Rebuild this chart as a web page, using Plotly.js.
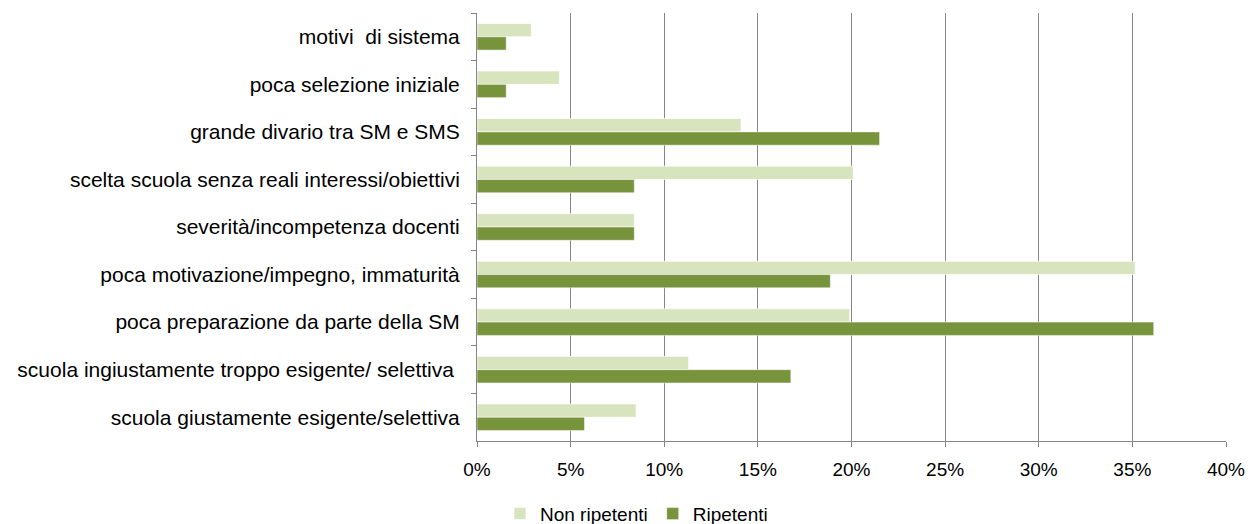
<!DOCTYPE html>
<html>
<head>
<meta charset="utf-8">
<script src="https://cdn.plot.ly/plotly-3.0.1.min.js"></script>
<style>html,body{margin:0;padding:0;background:#fff;}#chart{width:1248px;height:524px;}</style>
</head>
<body>
<div id="chart"></div>
<script>
var categories = [
  "motivi  di sistema",
  "poca selezione iniziale",
  "grande divario tra SM e SMS",
  "scelta scuola senza reali interessi/obiettivi",
  "severità/incompetenza docenti",
  "poca motivazione/impegno, immaturità",
  "poca preparazione da parte della SM",
  "scuola ingiustamente troppo esigente/ selettiva ",
  "scuola giustamente esigente/selettiva"
];
var nonRipetenti = [0.029, 0.044, 0.141, 0.201, 0.084, 0.3515, 0.199, 0.113, 0.085];
var ripetenti    = [0.0156, 0.0156, 0.215, 0.084, 0.084, 0.1887, 0.3614, 0.1676, 0.0574];
var seriesNames = ["Non ripetenti", "Ripetenti"];
var xTickVals = [0, 0.05, 0.10, 0.15, 0.20, 0.25, 0.30, 0.35, 0.40];

var font = "Liberation Sans, Arial, sans-serif";
var traces = [
  {type: "bar", orientation: "h", name: seriesNames[0], y: categories, x: nonRipetenti,
   marker: {color: "#D7E4BD", line: {color: "rgba(255,255,255,0.7)", width: 1}}, hoverinfo: "none"},
  {type: "bar", orientation: "h", name: seriesNames[1], y: categories, x: ripetenti,
   marker: {color: "#77933C", line: {color: "rgba(255,255,255,0.5)", width: 1}}, hoverinfo: "none"}
];
var layout = {
  width: 1248, height: 524,
  margin: {l: 477, r: 22, t: 13, b: 83, autoexpand: false},
  paper_bgcolor: "#fff", plot_bgcolor: "#fff",
  font: {family: font, size: 19, color: "#000"},
  barmode: "group", bargap: 0.44, bargroupgap: 0,
  showlegend: true,
  legend: {orientation: "h", xref: "container", x: 0.51, xanchor: "center", yref: "paper", y: -0.17, yanchor: "middle",
           traceorder: "normal", font: {family: font, size: 19, color: "#000"}, itemwidth: 30},
  xaxis: {range: [0, 0.4], tickvals: xTickVals, tickformat: ".0%", showgrid: true, gridcolor: "#868686", gridwidth: 1,
          zeroline: false, showline: true, linecolor: "#868686", linewidth: 1, ticks: "outside", ticklen: 5,
          tickcolor: "#868686", tickfont: {family: font, size: 19}, ticklabelstandoff: 6, automargin: false, fixedrange: true},
  yaxis: {type: "category", autorange: "reversed", tickson: "boundaries", ticks: "outside", ticklen: 5, tickcolor: "#868686",
          showline: true, linecolor: "#868686", linewidth: 1, showgrid: false, zeroline: false,
          tickfont: {family: font, size: 21}, ticklabelstandoff: 12, automargin: false, fixedrange: true}
};
Plotly.newPlot("chart", traces, layout, {displayModeBar: false, staticPlot: true});
</script>
</body>
</html>
